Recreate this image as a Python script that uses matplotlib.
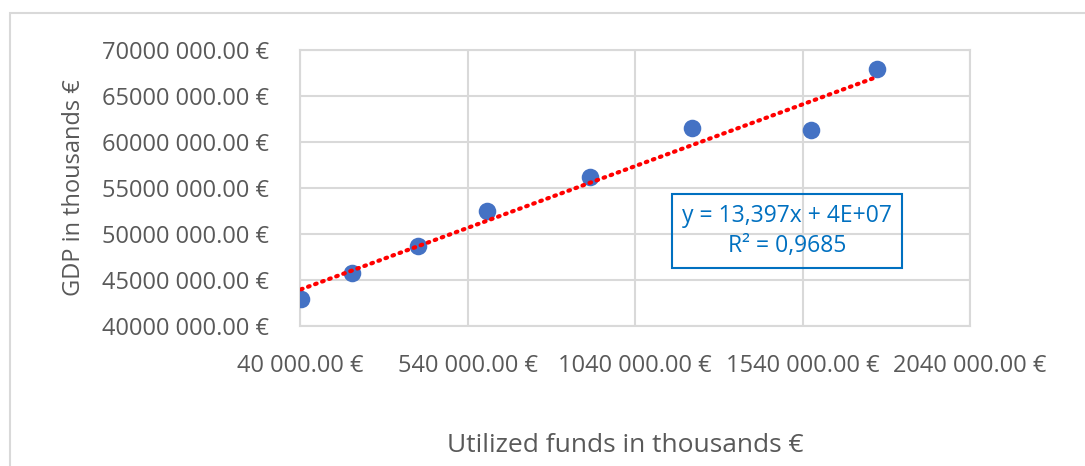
import numpy as np
import matplotlib.pyplot as plt
from matplotlib.patches import Rectangle

# data (thousands of euro)
funds = [43000, 195000, 392000, 598000, 906000, 1210000, 1565000, 1762000]
gdp = [42930000, 45760000, 48700000, 52500000, 56200000, 61520000, 61300000, 67930000]
x_ticks = [40000, 540000, 1040000, 1540000, 2040000]
y_ticks = [40000000, 45000000, 50000000, 55000000, 60000000, 65000000, 70000000]
eq_text = "y = 13,397x + 4E+07\nR² = 0,9685"

plt.rcParams["font.family"] = ["Open Sans", "DejaVu Sans"]

GREY = "#595959"
GRID = "#D9D9D9"


def eur(v):
    return f"{int(v) // 1000} {int(v) % 1000:03d}.00 €"


fig = plt.figure(figsize=(10.85, 4.66), dpi=100)
ax = fig.add_axes([300 / 1085, 1 - 326 / 466, 670 / 1085, 276 / 466])

# outer chart frame (cropped at right/bottom like the reference)
fig.patches.append(Rectangle((10 / 1085, -0.1), 1.2, 1 - 13 / 466 + 0.1,
                             transform=fig.transFigure, fill=False,
                             edgecolor=GRID, linewidth=1.5))

ax.scatter(funds, gdp, s=160, color="#4472C4", zorder=3, linewidths=0)

k, b = np.polyfit(funds, gdp, 1)
xs = np.array([funds[0], funds[-1]])
ax.plot(xs, k * xs + b, color="#FF0000", linestyle=(0, (0.4, 1.4)),
        linewidth=3, dash_capstyle="round", zorder=4)

ax.set_xlim(x_ticks[0], x_ticks[-1])
ax.set_ylim(y_ticks[0], y_ticks[-1])
ax.set_xticks(x_ticks)
ax.set_yticks(y_ticks)
ax.set_xticklabels([eur(v) for v in x_ticks])
ax.set_yticklabels([eur(v) for v in y_ticks])
ax.tick_params(length=0, labelsize=17, colors=GREY)
ax.tick_params(axis="y", pad=22)
ax.tick_params(axis="x", pad=20)
ax.grid(color=GRID, linewidth=1.5)
ax.set_axisbelow(True)
for s in ax.spines.values():
    s.set_color(GRID)
    s.set_linewidth(1.5)

ax.set_ylabel("GDP in thousands €", fontsize=17, color=GREY, labelpad=12)
fig.text(625 / 1085, 1 - 445 / 466, "Utilized funds in thousands €",
         fontsize=19, color=GREY, ha="center", va="center")

ax.text(787 / 1085, 1 - 231 / 466, eq_text, transform=fig.transFigure,
        ha="center", va="center", fontsize=16.5, color="#0070C0",
        linespacing=1.3,
        bbox=dict(boxstyle="square,pad=0.45", facecolor="none",
                  edgecolor="#0070C0", linewidth=1.5))

fig.savefig("out.png", dpi=100)
